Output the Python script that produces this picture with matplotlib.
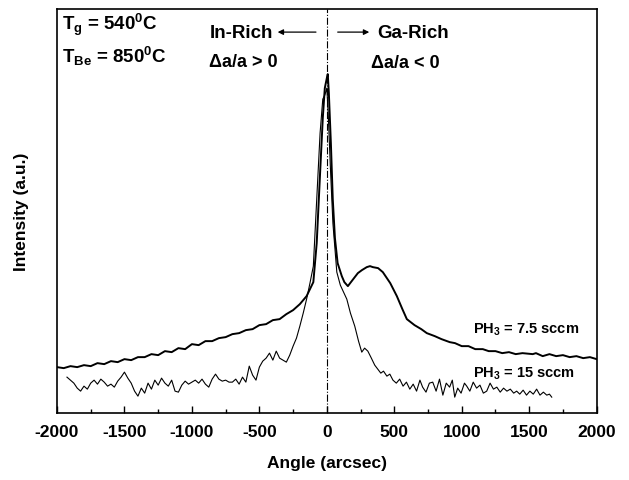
import matplotlib
matplotlib.use('Agg')
import matplotlib.pyplot as plt
from matplotlib.ticker import MultipleLocator

plt.rcParams['font.family'] = ['Liberation Sans', 'DejaVu Sans']
plt.rcParams['font.weight'] = 'bold'
plt.rcParams['axes.unicode_minus'] = False
plt.rcParams['mathtext.fontset'] = 'custom'
plt.rcParams['mathtext.rm'] = 'Liberation Sans:bold'
plt.rcParams['mathtext.bf'] = 'Liberation Sans:bold'
plt.rcParams['mathtext.default'] = 'rm'

# PH3 = 7.5 sccm (thick curve)
angle_75 = [-2000, -1950, -1900, -1850, -1800, -1750, -1700, -1650, -1600, -1550,
            -1500, -1450, -1400, -1350, -1300, -1250, -1200, -1150, -1100, -1050,
            -1000, -950, -900, -850, -800, -750, -700, -650, -600, -550,
            -500, -450, -400, -350, -300, -250, -200, -150, -100, -75,
            -50, -30, -15, 0, 7, 15, 30, 44, 60, 80,
            111, 130, 156, 190, 230, 260, 296, 320, 341, 380,
            415, 470, 519, 560, 593, 650, 700, 741, 800, 850,
            911, 950, 1000, 1050, 1100, 1156, 1200, 1250, 1300, 1350,
            1400, 1450, 1526, 1550, 1600, 1650, 1700, 1750, 1800, 1850,
            1900, 1950, 2000]
int_75 = [46, 45, 47, 46, 48, 47, 50, 49, 52, 51,
          54, 53, 56, 56, 59, 58, 62, 61, 65, 64,
          69, 68, 72, 72, 75, 76, 79, 80, 83, 84,
          88, 89, 93, 94, 99, 103, 109, 117, 131, 170,
          240, 295, 325, 335, 339, 320, 270, 214, 175, 150,
          137, 131, 127, 133, 140, 143, 146, 147, 146, 145,
          141, 130, 117, 104, 94, 88, 84, 80, 77, 74,
          71, 70, 67, 67, 64, 64, 62, 62, 60, 61,
          59, 60, 59, 60, 57, 59, 57, 58, 56, 57,
          55, 56, 54]

# PH3 = 15 sccm (thin curve)
angle_15 = [-1926, -1900, -1875, -1850, -1825, -1800, -1775, -1750, -1725, -1700,
            -1675, -1650, -1625, -1600, -1575, -1550, -1525, -1500, -1475, -1450,
            -1425, -1400, -1375, -1350, -1325, -1300, -1275, -1250, -1225, -1200,
            -1175, -1150, -1125, -1100, -1075, -1050, -1025, -1000, -975, -950,
            -925, -900, -875, -850, -825, -800, -775, -750, -725, -700,
            -675, -650, -625, -600, -575, -550, -525, -500, -475, -450,
            -425, -400, -375, -350, -325, -300, -275, -250, -225, -200,
            -175, -150, -125, -100, -75, -50, -30, -15, 0, 10,
            25, 45, 74, 100, 148, 175, 207, 235, 259, 280,
            304, 330, 355, 378, 400, 420, 445, 467, 490, 515,
            540, 565, 590, 615, 640, 665, 690, 710, 735, 760,
            785, 810, 835, 860, 885, 910, 930, 948, 970, 995,
            1020, 1037, 1060, 1085, 1110, 1135, 1160, 1185, 1210, 1235,
            1260, 1285, 1310, 1335, 1360, 1385, 1407, 1430, 1455, 1480,
            1505, 1530, 1555, 1580, 1605, 1630, 1650, 1667]
int_15 = [36, 33, 30, 25, 22, 27, 24, 30, 33, 29,
          34, 31, 27, 29, 26, 32, 36, 41, 35, 30,
          22, 17, 25, 20, 30, 24, 33, 28, 35, 30,
          27, 33, 22, 21, 28, 32, 29, 31, 33, 30,
          34, 29, 26, 34, 39, 34, 32, 33, 31, 31,
          34, 29, 36, 31, 47, 38, 33, 46, 52, 55,
          60, 53, 62, 55, 53, 51, 58, 67, 75, 87,
          100, 114, 130, 147, 214, 280, 314, 318, 325, 300,
          250, 190, 141, 128, 114, 100, 87, 72, 61, 65,
          62, 55, 48, 44, 40, 42, 37, 39, 33, 30,
          34, 27, 31, 24, 29, 22, 33, 26, 21, 30,
          31, 22, 34, 18, 30, 26, 33, 16, 25, 20,
          30, 27, 22, 31, 25, 28, 20, 22, 30, 24,
          26, 21, 25, 22, 24, 20, 22, 19, 23, 18,
          22, 19, 24, 18, 21, 18, 19, 16]

fig = plt.figure(figsize=(6.29, 4.81), dpi=100)
ax = fig.add_axes([0.0906, 0.139, 0.858, 0.840])

ax.plot(angle_75, int_75, color='black', lw=1.4)
ax.plot(angle_15, int_15, color='black', lw=0.8)
ax.axvline(0, color='black', lw=0.8, linestyle='-.')

ax.set_xlim(-2000, 2000)
ax.set_ylim(0, 404)
ax.xaxis.set_major_locator(MultipleLocator(500))
ax.xaxis.set_minor_locator(MultipleLocator(250))
ax.tick_params(axis='x', which='major', direction='in', length=5, width=1, labelsize=12.5, pad=8)
ax.tick_params(axis='x', which='minor', direction='in', length=3, width=1)
ax.set_yticks([])
for s in ax.spines.values():
    s.set_linewidth(1.2)

ax.set_xlabel('Angle (arcsec)', fontsize=12.5, fontweight='bold', labelpad=11)
ax.set_ylabel('Intensity (a.u.)', fontsize=12.5, fontweight='bold', labelpad=20)

ax.text(-1960, 389, r'T$_g$ = 540$^0$C', fontsize=13.5, va='center', ha='left')
ax.text(-1960, 358, r'T$_{Be}$ = 850$^0$C', fontsize=13.5, va='center', ha='left')

ax.text(-870, 381, 'In-Rich', fontsize=13.5, va='center', ha='left')
ax.text(-870, 352, 'Δa/a > 0', fontsize=13, va='center', ha='left')
ax.annotate('', xy=(-385, 381), xytext=(-60, 381),
            arrowprops=dict(arrowstyle='-|>', color='black', lw=0.9, mutation_scale=8))
ax.annotate('', xy=(335, 381), xytext=(60, 381),
            arrowprops=dict(arrowstyle='-|>', color='black', lw=0.9, mutation_scale=8))
ax.text(375, 381, 'Ga-Rich', fontsize=13.5, va='center', ha='left')
ax.text(330, 351, 'Δa/a < 0', fontsize=13, va='center', ha='left')

ax.text(1080, 84, r'PH$_3$ = 7.5 sccm', fontsize=10.5, va='center', ha='left')
ax.text(1080, 40, r'PH$_3$ = 15 sccm', fontsize=10.5, va='center', ha='left')

fig.savefig('out.png', dpi=100)
